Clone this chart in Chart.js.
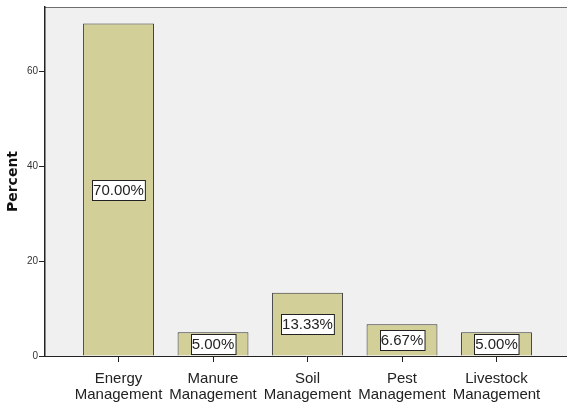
<!DOCTYPE html>
<html>
<head>
<meta charset="utf-8">
<script src="https://cdn.jsdelivr.net/npm/chart.js@4/dist/chart.umd.min.js"></script>
<style>
  html, body { margin: 0; padding: 0; background: #fff; }
  #wrap { width: 567px; height: 405px; }
</style>
</head>
<body>
<div id="wrap"><canvas id="chart"></canvas></div>
<script>
// data
const categories = [
  ['Energy', 'Management'],
  ['Manure', 'Management'],
  ['Soil', 'Management'],
  ['Pest', 'Management'],
  ['Livestock', 'Management']
];
const percents = [70.00, 5.00, 13.33, 6.67, 5.00];
const yTicks = [0, 20, 40, 60];

// plot panel: grey fill + thin top line
const panelBg = {
  id: 'panelBg',
  beforeDraw(chart) {
    const { ctx, chartArea: a } = chart;
    ctx.save();
    ctx.fillStyle = '#f0f0f0';
    ctx.fillRect(a.left, a.top, a.right - a.left, a.bottom - a.top);
    ctx.strokeStyle = '#6e6e6e';
    ctx.lineWidth = 1;
    ctx.beginPath();
    ctx.moveTo(a.left, a.top + 0.5);
    ctx.lineTo(a.right, a.top + 0.5);
    ctx.stroke();
    ctx.restore();
  }
};

// boxed value labels in the middle of each bar
const boxLabels = {
  id: 'boxLabels',
  afterDatasetsDraw(chart) {
    const { ctx } = chart;
    const meta = chart.getDatasetMeta(0);
    ctx.save();
    ctx.font = '15px "Liberation Sans", Arial, sans-serif';
    ctx.textAlign = 'center';
    ctx.textBaseline = 'middle';
    meta.data.forEach((bar, i) => {
      const txt = percents[i].toFixed(2) + '%';
      const w = ctx.measureText(txt).width + 2;
      const h = 20;
      const cy = Math.round((bar.y + bar.base) / 2);
      const x0 = Math.round(bar.x - w / 2) + 0.5;
      const y0 = Math.round(cy - h / 2) + 0.5;
      ctx.fillStyle = '#ffffff';
      ctx.fillRect(x0, y0, w, h);
      ctx.strokeStyle = '#222';
      ctx.lineWidth = 1;
      ctx.strokeRect(x0, y0, w, h);
      ctx.fillStyle = '#222';
      ctx.fillText(txt, bar.x, cy + 1);
    });
    ctx.restore();
  }
};

new Chart(document.getElementById('chart'), {
  type: 'bar',
  data: {
    datasets: [{
      data: percents.map((v, i) => ({ x: i, y: v })),
      backgroundColor: '#d3cf98',
      borderColor: '#333',
      borderWidth: 1,
      borderSkipped: 'bottom',
      barPercentage: 0.75,
      categoryPercentage: 1
    }]
  },
  options: {
    responsive: true,
    maintainAspectRatio: false,
    animation: false,
    devicePixelRatio: 1,
    layout: { padding: { top: 7, left: 0, right: 0, bottom: 0 } },
    plugins: { legend: { display: false }, tooltip: { enabled: false } },
    scales: {
      x: {
        type: 'linear',
        offset: false,
        min: -0.778,
        max: 4.746,
        afterBuildTicks: s => { s.ticks = categories.map((c, i) => ({ value: i })); },
        afterFit: s => { s.height = 49; },
        grid: { offset: false, drawOnChartArea: false, drawTicks: true, tickLength: 6, color: '#222' },
        border: { display: true, color: '#222', width: 1 },
        ticks: {
          autoSkip: false,
          maxRotation: 0,
          padding: 9,
          color: '#222',
          font: { family: '"Liberation Sans", Arial, sans-serif', size: 15, lineHeight: 1.05 },
          callback: v => categories[v]
        }
      },
      y: {
        min: 0,
        max: 73.5,
        afterBuildTicks: s => { s.ticks = yTicks.map(v => ({ value: v })); },
        afterFit: s => { s.width = 45; },
        grid: { drawOnChartArea: false, drawTicks: true, tickLength: 6, color: '#222' },
        border: { display: true, color: '#222', width: 1.5 },
        ticks: {
          padding: 1,
          color: '#333',
          font: { family: '"Liberation Sans", Arial, sans-serif', size: 10 }
        },
        title: {
          display: true,
          text: 'Percent',
          color: '#111',
          padding: { top: 5, bottom: 0 },
          font: { family: '"DejaVu Sans", sans-serif', size: 14, weight: 'bold' }
        }
      }
    }
  },
  plugins: [panelBg, boxLabels]
});
</script>
</body>
</html>
